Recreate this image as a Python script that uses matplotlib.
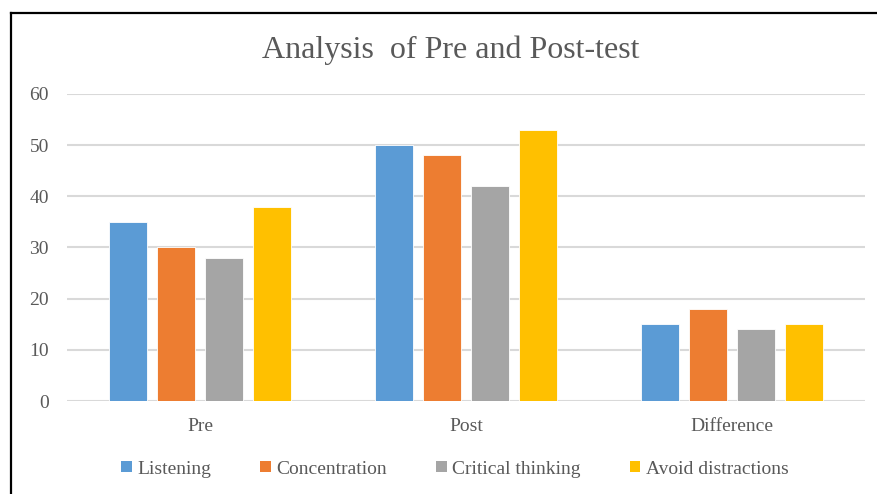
import numpy as np
import matplotlib.pyplot as plt
from matplotlib.lines import Line2D
from matplotlib.patches import Patch

categories = ['Pre', 'Post', 'Difference']
series_names = ['Listening', 'Concentration', 'Critical thinking', 'Avoid distractions']
listening = [35, 50, 15]
concentration = [30, 48, 18]
critical_thinking = [28, 42, 14]
avoid_distractions = [38, 53, 15]
colors = ['#5B9BD5', '#ED7D31', '#A5A5A5', '#FFC000']

plt.rcParams['font.family'] = ['Liberation Serif', 'DejaVu Serif']
txt = '#595959'

fig = plt.figure(figsize=(8.77, 4.94), dpi=100)
ax = fig.add_axes([67 / 877, 93 / 494, 798 / 877, 307 / 494])

series = [listening, concentration, critical_thinking, avoid_distractions]
x = np.arange(len(categories))
w = 38 / 266
step = 48 / 266
for i, (vals, c) in enumerate(zip(series, colors)):
    ax.bar(x + (i - 1.5) * step, vals, width=w, color=c, edgecolor='white',
           linewidth=0.6, zorder=3, label=series_names[i])

ax.set_xlim(-0.5, 2.5)
ax.set_ylim(0, 60)
ax.set_yticks(range(0, 61, 10))
ax.set_xticks(x)
ax.set_xticklabels(categories)
ax.grid(axis='y', color='#D9D9D9', linewidth=1.5, zorder=0)
for s in ax.spines.values():
    s.set_visible(False)
ax.tick_params(axis='both', length=0, labelsize=14, labelcolor=txt)
ax.tick_params(axis='y', pad=13)
ax.tick_params(axis='x', pad=12)

fig.text(451 / 877, 1 - 50 / 494, 'Analysis  of Pre and Post-test', ha='center', va='center',
         fontsize=23, color=txt)

handles = [Patch(facecolor=c, edgecolor='none') for c in colors]
fig.legend(handles, series_names, loc='center', bbox_to_anchor=(455 / 877, 1 - 469 / 494),
           ncol=4, frameon=False, fontsize=14, labelcolor=txt, handlelength=0.55,
           handleheight=0.55, handletextpad=0.3, columnspacing=2.5)

# screenshot border (top and left edges)
fig.add_artist(Line2D([11 / 877, 11 / 877], [0, 1 - 13 / 494], color='black', linewidth=1.6,
                      transform=fig.transFigure))
fig.add_artist(Line2D([11 / 877, 1], [1 - 13 / 494, 1 - 13 / 494], color='black', linewidth=1.6,
                      transform=fig.transFigure))

fig.savefig('out.png', dpi=100)
